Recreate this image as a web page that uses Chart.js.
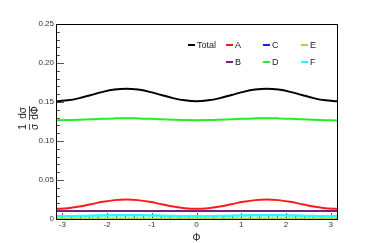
<!DOCTYPE html>
<html><head><meta charset="utf-8">
<script src="https://cdn.jsdelivr.net/npm/chart.js@4"></script>
<style>html,body{margin:0;padding:0;background:#fff}#wrap{width:374px;height:243px;position:relative}</style>
</head><body><div id="wrap"><canvas id="c" width="374" height="243"></canvas></div>
<script>
const phi = [-3.1416,-2.8798,-2.6180,-2.3562,-2.0944,-1.8326,-1.5708,-1.3090,-1.0472,-0.7854,-0.5236,-0.2618,0,
  0.2618,0.5236,0.7854,1.0472,1.3090,1.5708,1.8326,2.0944,2.3562,2.6180,2.8798,3.1416];
const seriesNames = ["Total","A","B","C","D","E","F"];
const total = [0.151,0.1521,0.155,0.159,0.163,0.1659,0.167,0.1659,0.163,0.159,0.155,0.1521,0.151,
  0.1521,0.155,0.159,0.163,0.1659,0.167,0.1659,0.163,0.159,0.155,0.1521,0.151];
const serA = [0.013,0.0138,0.016,0.019,0.022,0.0242,0.025,0.0242,0.022,0.019,0.016,0.0138,0.013,
  0.0138,0.016,0.019,0.022,0.0242,0.025,0.0242,0.022,0.019,0.016,0.0138,0.013];
const serB = [0.0103,0.0103,0.0103,0.0103,0.0103,0.0103,0.0103,0.0103,0.0103,0.0103,0.0103,0.0103,0.0103,
  0.0103,0.0103,0.0103,0.0103,0.0103,0.0103,0.0103,0.0103,0.0103,0.0103,0.0103,0.0103];
const serC = [0.0004,0.0004,0.0004,0.0004,0.0004,0.0004,0.0004,0.0004,0.0004,0.0004,0.0004,0.0004,0.0004,
  0.0004,0.0004,0.0004,0.0004,0.0004,0.0004,0.0004,0.0004,0.0004,0.0004,0.0004,0.0004];
const serD = [0.1266,0.1268,0.1273,0.1279,0.1286,0.129,0.1292,0.129,0.1286,0.1279,0.1273,0.1268,0.1266,
  0.1268,0.1273,0.1279,0.1286,0.129,0.1292,0.129,0.1286,0.1279,0.1273,0.1267,0.1262];
const serE = [0.0004,0.0004,0.0004,0.0004,0.0004,0.0004,0.0004,0.0004,0.0004,0.0004,0.0004,0.0004,0.0004,
  0.0004,0.0004,0.0004,0.0004,0.0004,0.0004,0.0004,0.0004,0.0004,0.0004,0.0004,0.0004];
const serF = [0.0035,0.0036,0.0038,0.0042,0.0046,0.0048,0.0049,0.0048,0.0046,0.0042,0.0038,0.0036,0.0035,
  0.0036,0.0038,0.0042,0.0046,0.0048,0.0049,0.0048,0.0046,0.0042,0.0038,0.0036,0.0035];
const xTicks = [-3,-2,-1,0,1,2,3];
const yTicks = [0,0.05,0.1,0.15,0.2,0.25];

const colors = {Total:"#000000",A:"#ff1a1a",B:"#7a1f7a",C:"#1a1aff",D:"#22ee22",E:"#c8c83a",F:"#22ffff"};
const values = {Total:total,A:serA,B:serB,C:serC,D:serD,E:serE,F:serF};
const drawOrder = ["E","F","C","B","A","D","Total"];
const datasets = drawOrder.map(n => ({
  label:n, data: phi.map((x,i)=>({x:x,y:values[n][i]})),
  borderColor:colors[n], backgroundColor:colors[n], borderWidth:(n==="F"?2.5:2), pointRadius:0,
  tension:0.35, fill:false, borderDash: n==="C"?[2,2]:[]
}));

const FONT = "Liberation Sans, Arial, sans-serif";
const deco = {
  id:'deco',
  beforeDatasetsDraw(chart){
    const {ctx, chartArea:a, scales:{x,y}} = chart;
    ctx.save();
    ctx.strokeStyle="#555"; ctx.lineWidth=1;
    for(let v=0; v<=0.2501; v+=0.01){
      const py = Math.round(y.getPixelForValue(v))+0.5;
      const major = Math.abs(v/0.05 - Math.round(v/0.05))<1e-6;
      ctx.beginPath(); ctx.moveTo(a.left, py); ctx.lineTo(a.left+(major?8:4), py); ctx.stroke();
    }
    for(let v=-3.0; v<=3.001; v+=0.2){
      const px = Math.round(x.getPixelForValue(v))+0.5;
      const major = Math.abs(v-Math.round(v))<1e-6;
      ctx.beginPath(); ctx.moveTo(px, a.bottom); ctx.lineTo(px, a.bottom-(major?6:3)); ctx.stroke();
    }
    ctx.restore();
  },
  afterDraw(chart){
    const {ctx, chartArea:a} = chart;
    ctx.save();
    ctx.strokeStyle="#000"; ctx.lineWidth=1;
    ctx.strokeRect(Math.round(a.left)+0.5, Math.round(a.top)+0.5, Math.round(a.right-a.left), Math.round(a.bottom-a.top));
    const pos = {Total:[188,45],A:[226,45],C:[263,45],E:[301,45],B:[226,62],D:[263,62],F:[301,62]};
    ctx.font = "9px "+FONT; ctx.textBaseline="middle"; ctx.fillStyle="#222";
    seriesNames.forEach(n=>{
      const [lx,ly]=pos[n];
      ctx.strokeStyle=colors[n]; ctx.lineWidth=2; ctx.setLineDash([]);
      ctx.beginPath(); ctx.moveTo(lx,ly); ctx.lineTo(lx+7,ly); ctx.stroke();
      ctx.fillStyle="#222"; ctx.fillText(n, lx+9, ly+0.5);
    });
    ctx.font="10px "+FONT; ctx.textAlign="center";
    ctx.fillText("Φ", (a.left+a.right)/2, 238);
    ctx.translate(29, 117); ctx.rotate(-Math.PI/2);
    ctx.font="10px "+FONT; ctx.textAlign="center"; ctx.textBaseline="middle";
    ctx.fillText("1", -10, -6); ctx.fillText("σ", -10, 6);
    ctx.fillText("dσ", 4, -6); ctx.fillText("dΦ", 4, 6);
    ctx.strokeStyle="#222"; ctx.lineWidth=0.8;
    ctx.beginPath(); ctx.moveTo(-13,0.5); ctx.lineTo(-7,0.5); ctx.moveTo(-3,0.5); ctx.lineTo(11,0.5); ctx.stroke();
    ctx.restore();
  }
};

new Chart(document.getElementById('c'), {
  type:'line',
  data:{datasets},
  options:{
    responsive:false, animation:false, maintainAspectRatio:false,
    layout:{padding:{left:0,top:24,right:37,bottom:0}},
    plugins:{legend:{display:false}, tooltip:{enabled:false}},
    scales:{
      x:{type:'linear', min:-Math.PI, max:Math.PI,
        afterBuildTicks(s){ s.ticks = xTicks.map(v=>({value:v})); },
        afterFit(s){ s.height = 24; },
        grid:{display:false, drawTicks:false}, border:{display:false},
        ticks:{padding:1, color:"#333", font:{size:8, family:FONT}, maxRotation:0, autoSkip:false}
      },
      y:{type:'linear', min:0, max:0.25,
        afterBuildTicks(s){ s.ticks = yTicks.map(v=>({value:v})); },
        afterFit(s){ s.width = 56; },
        grid:{display:false, drawTicks:false}, border:{display:false},
        ticks:{padding:2, color:"#333", font:{size:8, family:FONT}}
      }
    }
  },
  plugins:[deco]
});
</script></body></html>
